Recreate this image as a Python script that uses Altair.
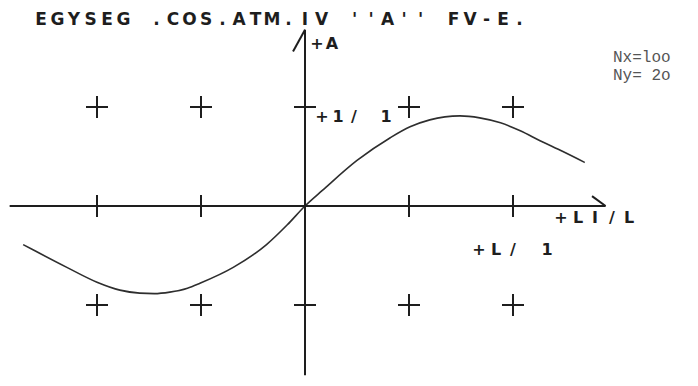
import altair as alt
import pandas as pd

# Curve samples (x in units of L, y in units of A)
curve_x = [-2.71, -2.62, -2.29, -2.00, -1.78, -1.59, -1.45, -1.30, -1.13, -1.01, -0.69, -0.37,
           -0.17, 0.00, 0.17, 0.50, 0.82, 1.01, 1.20, 1.49, 1.68, 1.88, 2.07, 2.26, 2.48, 2.69]
curve_y = [-0.39, -0.44, -0.62, -0.77, -0.85, -0.88, -0.885, -0.87, -0.83, -0.78, -0.62, -0.39,
           -0.19, 0.00, 0.16, 0.46, 0.69, 0.80, 0.87, 0.91, 0.89, 0.84, 0.76, 0.66, 0.55, 0.44]

# Grid crosses
grid_x = [-2, -1, 0, 1, 2]
grid_y = [-1, 0, 1]

TITLE = "EGYSEG .COS.ATM.IV ''A'' FV-E."
Y_LABEL = "+A"
Y_UNIT = "+1/ 1"
X_LABEL = "+LI/L"
X_UNIT = "+L/ 1"
NX_TEXT = "Nx=loo"
NY_TEXT = "Ny= 2o"

W, H = 698, 386
X0_PX, Y0_PX = 305, 206      # origin position
SX, SY = 104, 99             # pixels per unit
x_dom = [(0 - X0_PX) / SX, (W - X0_PX) / SX]
y_dom = [(Y0_PX - H) / SY, Y0_PX / SY]

xs = alt.Scale(domain=x_dom, nice=False, zero=False)
ys = alt.Scale(domain=y_dom, nice=False, zero=False)
INK = "#1e1e1e"

curve = pd.DataFrame({"x": curve_x, "y": curve_y})
line = alt.Chart(curve).mark_line(color="#2e2e2e", strokeWidth=1.6, interpolate="monotone").encode(
    x=alt.X("x:Q", scale=xs, axis=None),
    y=alt.Y("y:Q", scale=ys, axis=None),
)

# Axis lines and arrow barbs (data units)
axes = pd.DataFrame({
    "x": [-2.84, 0.0, 2.76, -0.115],
    "y": [0.0, -1.71, 0.10, 1.56],
    "x2": [2.89, 0.0, 2.89, 0.0],
    "y2": [0.0, 1.78, 0.0, 1.78],
})
axis_rules = alt.Chart(axes).mark_rule(color=INK, strokeWidth=2).encode(
    x=alt.X("x:Q", scale=xs, axis=None),
    y=alt.Y("y:Q", scale=ys, axis=None),
    x2="x2:Q",
    y2="y2:Q",
)

crosses = pd.DataFrame([(gx, gy) for gy in grid_y for gx in grid_x if not (gx == 0 and gy == 0)],
                       columns=["x", "y"])
cross_marks = alt.Chart(crosses).mark_point(
    shape="M-1,0L1,0M0,-1L0,1", size=484, strokeWidth=2, color=INK, filled=False, opacity=1
).encode(
    x=alt.X("x:Q", scale=xs, axis=None),
    y=alt.Y("y:Q", scale=ys, axis=None),
)


def spaced(text, x0, pitch, y):
    """Lay a string out on a fixed character grid, one glyph per cell."""
    return [{"ch": c, "px": x0 + i * pitch, "py": y} for i, c in enumerate(text) if c != " "]


def block(rows, size):
    return alt.Chart(pd.DataFrame(rows)).mark_text(
        font="DejaVu Sans", fontWeight="bold", fontSize=size, color=INK, align="center", baseline="middle"
    ).encode(
        x=alt.X("px:Q", scale=None),
        y=alt.Y("py:Q", scale=None),
        text="ch:N",
    )


title_text = block(spaced(TITLE, 41, 16.5, 20), 17)
label_text = block(spaced(Y_LABEL, 317, 15, 44) + spaced(Y_UNIT, 322, 16, 117)
                   + spaced(X_LABEL, 561, 17, 218) + spaced(X_UNIT, 479, 17, 250), 16)

notes = pd.DataFrame({"t": [NX_TEXT, NY_TEXT], "px": [613, 613], "py": [57, 75]})
note_text = alt.Chart(notes).mark_text(
    font="Liberation Mono", fontSize=16, color="#555555", align="left", baseline="middle"
).encode(
    x=alt.X("px:Q", scale=None),
    y=alt.Y("py:Q", scale=None),
    text="t:N",
)

chart = alt.layer(line, axis_rules, cross_marks, title_text, label_text, note_text).properties(
    width=W, height=H, padding=0, autosize=alt.AutoSizeParams(type="none"), background="white"
).configure_view(stroke=None)

chart.save("out.html", embed_options={"renderer": "svg", "actions": False})
